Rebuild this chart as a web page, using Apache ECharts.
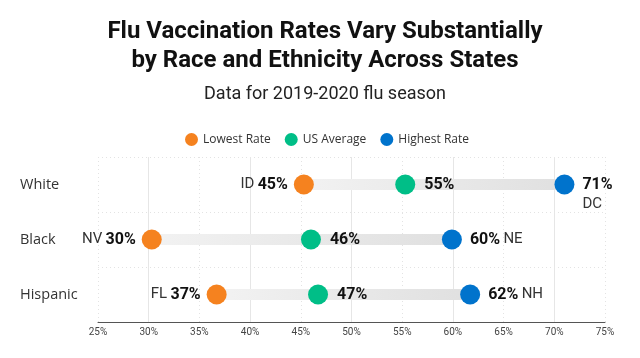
<!DOCTYPE html>
<html><head><meta charset="utf-8">
<script src="https://cdn.jsdelivr.net/npm/echarts@6/dist/echarts.min.js"></script>
<style>html,body{margin:0;padding:0;background:#fff}#c{width:640px;height:358px}</style>
</head><body><div id="c"></div>
<script>
const categories = ['White', 'Black', 'Hispanic'];
const lowStates = ['ID', 'NV', 'FL'];
const lowValues = [45.3, 30.3, 36.7];
const avgValues = [55.3, 46.0, 46.7];
const highStates = ['DC', 'NE', 'NH'];
const highValues = [71.0, 59.9, 61.7];
const xMin = 25, xMax = 75, xStep = 5;

const chart = echarts.init(document.getElementById('c'), null, {renderer: 'canvas'});
const rich = {
  s: {fontFamily: 'Roboto', fontSize: 15, color: '#333'},
  b: {fontFamily: 'Roboto', fontSize: 16, fontWeight: 'bold', color: '#111'}
};
const fmtPct = v => Math.round(v) + '%';

const option = {
  animation: false,
  title: [
    {text: 'Flu Vaccination Rates Vary Substantially\nby Race and Ethnicity Across States', left: 320, top: 12,
     textAlign: 'center',
     textStyle: {fontFamily: 'Roboto', fontSize: 24, fontWeight: 'bold', color: '#111', lineHeight: 29}},
    {text: 'Data for 2019-2020 flu season', left: 320, top: 80, textAlign: 'center',
     textStyle: {fontFamily: 'Roboto', fontSize: 18, fontWeight: 'normal', color: '#222'}}
  ],
  legend: {
    top: 128, left: 180, icon: 'circle', itemWidth: 13, itemHeight: 13, itemGap: 14,
    textStyle: {fontFamily: 'Open Sans', fontSize: 12, color: '#333'},
    data: ['Lowest Rate', 'US Average', 'Highest Rate']
  },
  grid: {left: 98, right: 35, top: 157, bottom: 36, containLabel: false},
  xAxis: [
    {type: 'value', min: xMin, max: xMax, interval: xStep,
     axisLine: {show: true, lineStyle: {color: '#555', width: 1}}, axisTick: {show: false},
     axisLabel: {fontFamily: 'Roboto', fontSize: 10, color: '#444', margin: 5, formatter: v => v + '%'},
     splitLine: {show: true, lineStyle: {color: ['rgba(0,0,0,0)', '#e6e6e6'], width: 1, type: 'solid'}}},
    {type: 'value', min: xMin, max: xMax, interval: xStep * 2, position: 'top',
     axisLine: {show: false}, axisTick: {show: false}, axisLabel: {show: false},
     splitLine: {show: true, lineStyle: {color: '#e3e3e3', width: 1, type: [1, 3]}}}
  ],
  yAxis: {
    type: 'category', data: categories, inverse: true,
    axisLine: {show: false}, axisTick: {show: false},
    axisLabel: {align: 'left', margin: 78, fontFamily: 'Open Sans', fontSize: 14.5, color: '#333'},
    splitLine: {show: true, lineStyle: {color: '#e3e3e3', type: [1, 3]}}
  },
  series: [
    {type: 'custom', xAxisIndex: 0, silent: true,
     encode: {x: [0, 1], y: 2},
     data: categories.map((c, i) => [lowValues[i], highValues[i], i]),
     renderItem: function (params, api) {
       const s = api.coord([api.value(0), api.value(2)]);
       const e = api.coord([api.value(1), api.value(2)]);
       const h = 11;
       return {type: 'rect', shape: {x: s[0], y: s[1] - h / 2, width: e[0] - s[0], height: h},
         style: {fill: new echarts.graphic.LinearGradient(0, 0, 1, 0, [
           {offset: 0, color: '#f2f2f2'}, {offset: 1, color: '#e0e0e0'}])}};
     }},
    {name: 'Lowest Rate', type: 'scatter', symbolSize: 20, itemStyle: {color: '#f5821f', opacity: 1},
     data: categories.map((c, i) => [lowValues[i], c]),
     label: {show: true, position: 'left', distance: 6, rich: rich,
       formatter: p => '{s|' + lowStates[p.dataIndex] + '} {b|' + fmtPct(p.value[0]) + '}'}},
    {name: 'US Average', type: 'scatter', symbolSize: 20, itemStyle: {color: '#00be87', opacity: 1},
     data: categories.map((c, i) => [avgValues[i], c]),
     label: {show: true, position: 'right', distance: 9, rich: rich,
       formatter: p => '{b|' + fmtPct(p.value[0]) + '}'}},
    {name: 'Highest Rate', type: 'scatter', symbolSize: 20, itemStyle: {color: '#0073cc', opacity: 1},
     data: categories.map((c, i) => {
       const d = {value: [highValues[i], c]};
       if (i === 0) d.label = {position: [28, 0], align: 'left', verticalAlign: 'top',
         formatter: p => '{b|' + fmtPct(p.value[0]) + '}\n{s|' + highStates[p.dataIndex] + '}'};
       return d;
     }),
     label: {show: true, position: 'right', distance: 8, rich: rich, lineHeight: 20,
       formatter: p => '{b|' + fmtPct(p.value[0]) + '} {s|' + highStates[p.dataIndex] + '}'}}
  ]
};
chart.setOption(option);
</script></body></html>
